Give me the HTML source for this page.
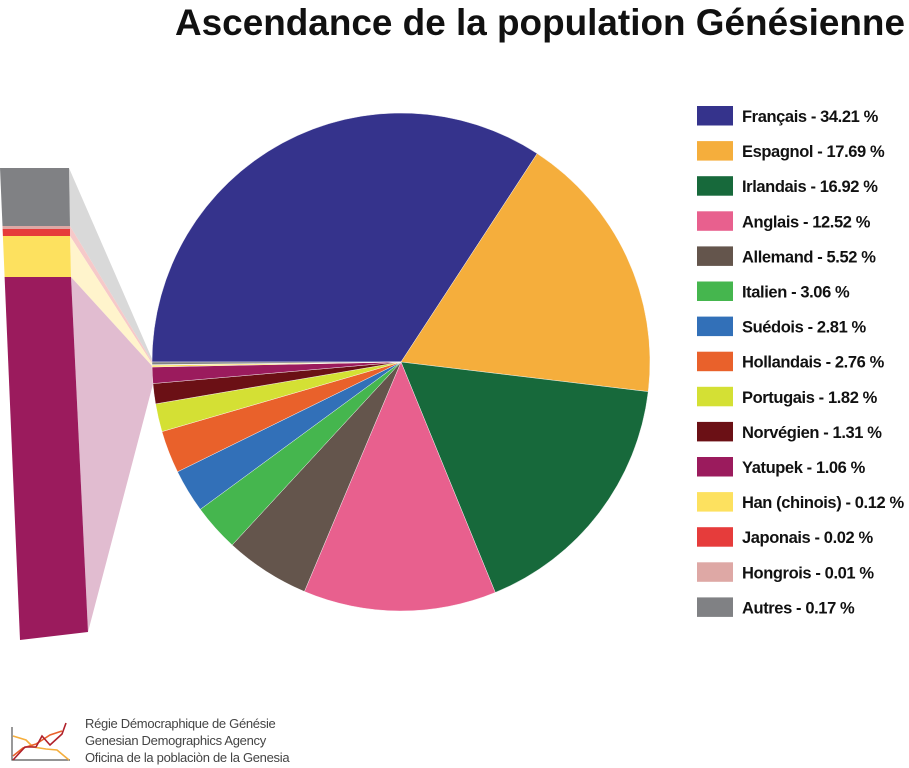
<!DOCTYPE html>
<html><head><meta charset="utf-8"><style>
html,body{margin:0;padding:0;background:#fff;}
svg{display:block;}
text{font-family:"Liberation Sans",Arial,sans-serif;}
</style></head><body>
<svg id="s" width="909" height="768" viewBox="0 0 909 768" xmlns="http://www.w3.org/2000/svg">
<text x="175" y="35" font-size="37" font-weight="bold" fill="#111" textLength="730" lengthAdjust="spacingAndGlyphs">Ascendance de la population Génésienne</text>
<polygon points="69,168 70,226 153,363 153,361" fill="#d9d9d9"/>
<polygon points="70,226 70,236 153,365 153,363" fill="#f6c9c9"/>
<polygon points="70,236 71,277 153,367 153,365" fill="#fff4cc"/>
<polygon points="71,277 88,632 153,384 153,367" fill="#e1bcd0"/>
<polygon points="0,168 69,168 70,226 2.5,226" fill="#808184"/>
<polygon points="2.5,226 70,226 70,229 2.6,229" fill="#dea8a5"/>
<polygon points="2.6,229 70,229 70,236 2.9,236" fill="#e63c3b"/>
<polygon points="2.9,236 70,236 71,277 4.6,277" fill="#fde15f"/>
<polygon points="4.6,277 71,277 88,632 20,640" fill="#9b1b5d"/>
<g id="pie"></g>
<g id="leg"></g>
<g fill="none" stroke-width="1.6">
<polyline points="12,727 12,760 70,760" stroke="#555" stroke-width="1.2"/>
<polyline points="13,736 26,740 33,747 46,749 57,750 69,760" stroke="#f5ae3c"/>
<polyline points="13,756 23,748 36,744 50,735 62,731" stroke="#e9612b"/>
<polyline points="13,760 25,747 36,747 42,736 50,745 62,734 66,723" stroke="#b0202a"/>
</g>
<g font-size="13" fill="#444" letter-spacing="-0.3">
<text x="85" y="728">Régie Démocraphique de Génésie</text>
<text x="85" y="745">Genesian Demographics Agency</text>
<text x="85" y="762">Oficina de la poblaciòn de la Genesia</text>
</g>
</svg>
<script>
var d=[["Français",34.21,"#35338c"],["Espagnol",17.69,"#f5ae3c"],["Irlandais",16.92,"#17693b"],["Anglais",12.52,"#e8608e"],["Allemand",5.52,"#64554c"],["Italien",3.06,"#45b64e"],["Suédois",2.81,"#3270b8"],["Hollandais",2.76,"#e9612b"],["Portugais",1.82,"#d4e034"],["Norvégien",1.31,"#6b1015"],["Yatupek",1.06,"#9b1b5d"],["Han (chinois) ",0.12,"#fde15f"],["Japonais",0.02,"#e63c3b"],["Hongrois",0.01,"#dea8a5"],["Autres",0.17,"#808184"]];
var ns="http://www.w3.org/2000/svg",cx=401,cy=362,r=249,c=0,pie=document.getElementById("pie"),leg=document.getElementById("leg");
function pt(p){var t=(270+p*3.6)*Math.PI/180;return [cx+r*Math.sin(t),cy-r*Math.cos(t)];}
var tot=0;d.forEach(function(x){tot+=x[1];});
d.forEach(function(x,i){
 var a=c/tot*100,b=(c+x[1])/tot*100;c+=x[1];
 var p1=pt(a),p2=pt(b),lg=(b-a)>50?1:0;
 var e=document.createElementNS(ns,"path");
 e.setAttribute("d","M"+cx+","+cy+"L"+p1[0]+","+p1[1]+"A"+r+","+r+" 0 "+lg+" 1 "+p2[0]+","+p2[1]+"Z");
 e.setAttribute("fill",x[2]);e.setAttribute("stroke","#fff");e.setAttribute("stroke-width","0.4");
 pie.appendChild(e);
 var y=106+i*35.1;
 var rc=document.createElementNS(ns,"rect");
 rc.setAttribute("x",697);rc.setAttribute("y",y);rc.setAttribute("width",36);rc.setAttribute("height",19.5);rc.setAttribute("fill",x[2]);
 leg.appendChild(rc);
 var t=document.createElementNS(ns,"text");
 t.setAttribute("x",742);t.setAttribute("y",y+16);t.setAttribute("font-size","16.5");t.setAttribute("font-weight","bold");t.setAttribute("fill","#111");t.setAttribute("letter-spacing","-0.4");
 t.textContent=x[0]+" - "+x[1].toFixed(2)+" %";
 leg.appendChild(t);
});
</script>
</body></html>
